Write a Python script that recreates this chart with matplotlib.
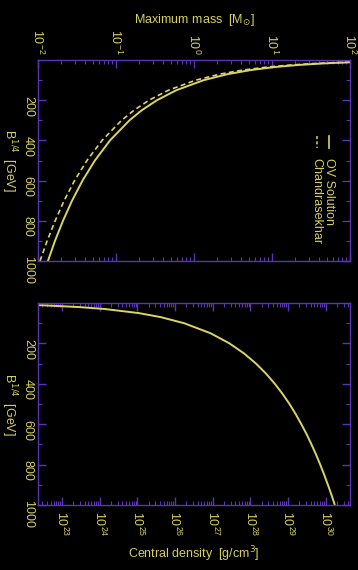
import matplotlib
matplotlib.use("Agg")
import matplotlib.pyplot as plt
from matplotlib.ticker import LogLocator, MultipleLocator, NullFormatter

# B^(1/4) [GeV] along the maximum-mass curves
bag_mass = [1000, 900, 800, 700, 600, 500, 400, 300, 250, 200, 150, 100, 70, 50, 35, 25, 18, 14, 10]
mass_ov = [0.0134, 0.0165, 0.0209, 0.0273, 0.0372, 0.0536, 0.0838, 0.149, 0.214, 0.335,
           0.596, 1.34, 2.73, 5.36, 10.9, 21.4, 41.4, 68.4, 134.0]
mass_chandra = [0.0106, 0.0131, 0.0166, 0.0216, 0.0294, 0.0424, 0.0663, 0.118, 0.170, 0.265,
                0.471, 1.06, 2.16, 4.24, 8.65, 17.0, 32.7, 54.1, 106.0]

# B^(1/4) [GeV] along the central-density curve
bag_rho = [1000, 950, 900, 850, 800, 750, 700, 650, 600, 550, 500, 450, 400, 350, 300,
           250, 200, 150, 100, 70, 50, 30, 20, 12, 10]
rho_c = [1.74e30, 1.42e30, 1.14e30, 9.08e29, 7.13e29, 5.51e29, 4.18e29, 3.11e29, 2.25e29,
         1.59e29, 1.09e29, 7.13e28, 4.45e28, 2.61e28, 1.41e28, 6.80e27, 2.78e27, 8.81e26,
         1.74e26, 4.18e25, 1.09e25, 1.41e24, 2.78e23, 3.61e22, 1.74e22]

yellow = "#dcd464"
text_col = "#d6d05c"
purple = "#5a34b4"
font = ["Liberation Sans", "DejaVu Sans"]

plt.rcParams["font.family"] = font
plt.rcParams["mathtext.fontset"] = "dejavusans"

fig = plt.figure(figsize=(3.58, 5.70), dpi=100, facecolor="black")
ax1 = fig.add_axes([38 / 358, 1 - 261 / 570, 312 / 358, 201 / 570])
ax2 = fig.add_axes([38 / 358, 1 - 505 / 570, 312 / 358, 202 / 570])


def style(ax):
    ax.set_facecolor("black")
    for sp in ax.spines.values():
        sp.set_color(purple)
        sp.set_linewidth(1.0)
    ax.set_xscale("log")
    ax.set_ylim(1000, 0)
    ax.set_yticks([200, 400, 600, 800, 1000])
    ax.yaxis.set_minor_locator(MultipleLocator(100))
    ax.xaxis.set_minor_locator(LogLocator(base=10, subs=range(2, 10), numticks=50))
    ax.xaxis.set_minor_formatter(NullFormatter())
    ax.tick_params(which="both", direction="in", colors=purple, labelcolor=text_col,
                   top=True, bottom=True, left=True, right=True, labelsize=9)
    ax.tick_params(which="major", length=6, width=1.0)
    ax.tick_params(which="minor", length=3, width=0.8)
    ax.tick_params(axis="y", labelrotation=-90, pad=3)
    ax.tick_params(axis="x", labelrotation=-90, pad=4)
    ax.set_ylabel(r"B$^{1/4}$  [GeV]", color=text_col, fontsize=9, rotation=-90,
                  va="center", ha="center")
    ax.yaxis.set_label_coords(-0.093, 0.5)


# top panel: maximum mass
style(ax1)
ax1.set_xlim(1e-2, 1e2)
ax1.set_xticks([1e-2, 1e-1, 1e0, 1e1, 1e2])
ax1.tick_params(axis="x", labeltop=True, labelbottom=False)
ax1.xaxis.set_label_position("top")
ax1.set_xlabel(r"Maximum mass  [M$_{\odot}$]", color=text_col, fontsize=9, labelpad=4)
ax1.plot(mass_ov, bag_mass, color=yellow, lw=1.4, ls="-")
ax1.plot(mass_chandra, bag_mass, color=yellow, lw=1.2, ls=(0, (3, 2)))

# rotated legend
ax1.plot([0.932, 0.932], [0.62, 0.56], transform=ax1.transAxes, color=yellow, lw=1.2)
ax1.plot([0.893, 0.893], [0.62, 0.56], transform=ax1.transAxes, color=yellow, lw=1.1,
         ls=(0, (2, 1.5)))
ax1.text(0.932, 0.51, "OV Solution", transform=ax1.transAxes, rotation=-90,
         color=text_col, fontsize=9, ha="center", va="top")
ax1.text(0.893, 0.51, "Chandrasekhar", transform=ax1.transAxes, rotation=-90,
         color=text_col, fontsize=9, ha="center", va="top")

# bottom panel: central density
style(ax2)
ax2.set_xlim(2.3e22, 4.4e30)
ax2.set_xticks([1e23, 1e24, 1e25, 1e26, 1e27, 1e28, 1e29, 1e30])
ax2.tick_params(axis="x", labeltop=False, labelbottom=True)
ax2.set_xlabel(r"Central density  [g/cm$^3$]", color=text_col, fontsize=9, labelpad=6)
ax2.plot(rho_c, bag_rho, color=yellow, lw=1.4)

fig.savefig("out.png", dpi=100, facecolor="black")
